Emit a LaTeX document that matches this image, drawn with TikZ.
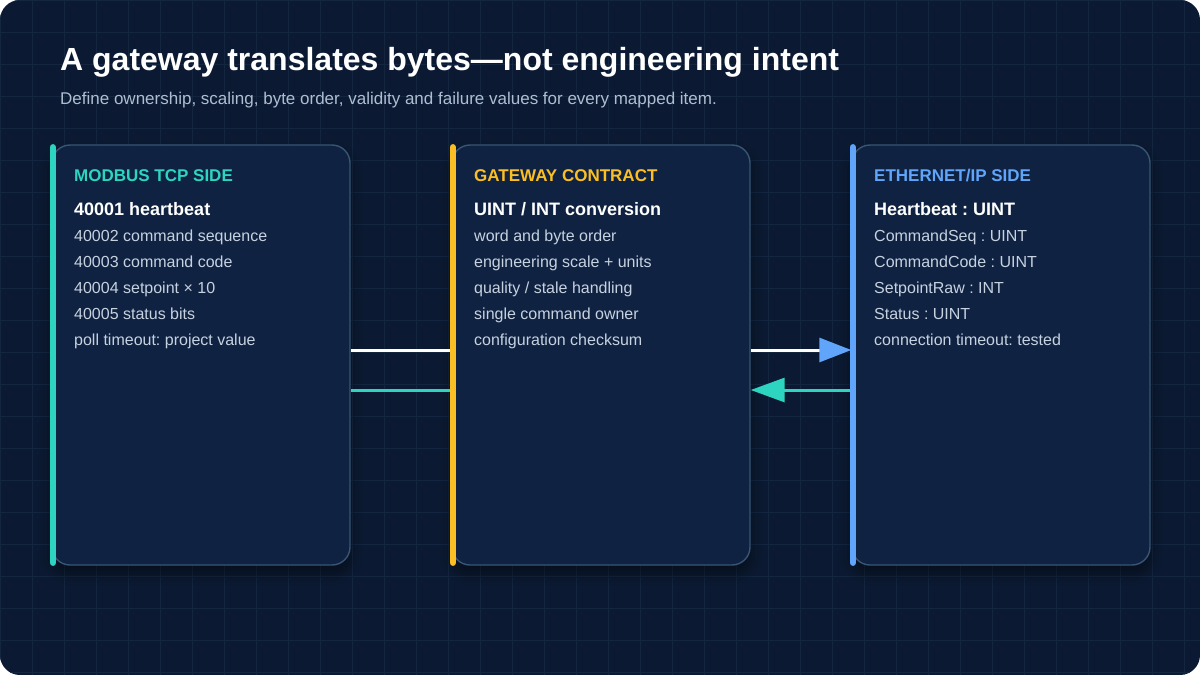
\documentclass[tikz,border=0pt]{standalone}
\usepackage{fontspec}
\setmainfont{Liberation Sans}
\usetikzlibrary{calc,arrows.meta,shadows.blur}

\definecolor{bgNavy}{HTML}{0B1A32}
\definecolor{gridLine}{HTML}{13253F}
\definecolor{panelFill}{HTML}{0F2241}
\definecolor{panelEdge}{HTML}{385574}
\definecolor{modbusTeal}{HTML}{2DD4BF}
\definecolor{gatewayGold}{HTML}{FBBF24}
\definecolor{enipBlue}{HTML}{60A5FA}
\definecolor{bodyGrey}{HTML}{C7D2E0}
\definecolor{subGrey}{HTML}{AFBDD0}

\tikzset{
  panel/.style={draw=panelEdge, line width=1.4pt, fill=panelFill, rounded corners=18pt,
    minimum width=298pt, minimum height=420pt, inner sep=0pt,
    blur shadow={shadow xshift=0pt, shadow yshift=-8pt, shadow blur radius=12pt, shadow opacity=45}},
  accent/.style={line width=6.5pt, line cap=round},
  header/.style={anchor=base west, inner sep=0pt, font=\fontsize{17}{20}\selectfont\bfseries},
  keyline/.style={anchor=base west, inner sep=0pt, text=white, font=\fontsize{18}{21}\selectfont\bfseries},
  bodyline/.style={anchor=base west, inner sep=0pt, text=bodyGrey, font=\fontsize{16}{19}\selectfont},
  flow/.style={line width=3pt},
}

\begin{document}
\frenchspacing
\begin{tikzpicture}[x=1pt,y=-1pt]

    \useasboundingbox (0,0) rectangle (1200,675);

    % backdrop with faint grid
    \fill[white] (0,0) rectangle (1200,675);
    \begin{scope}
        \clip[rounded corners=20pt] (0,0) rectangle (1200,675);
        \fill[bgNavy] (0,0) rectangle (1200,675);
        \draw[gridLine, line width=0.7pt, step=32pt] (0,0) grid (1200,675);
    \end{scope}

    % heading
    \node[anchor=base west, inner sep=0pt, text=white, font=\fontsize{32}{38}\selectfont\bfseries] (title) at (60,70) {A gateway translates bytes—not engineering intent};
    \node[anchor=base west, inner sep=0pt, text=subGrey, font=\fontsize{17}{20}\selectfont] (subtitle) at (60,104) {Define ownership, scaling, byte order, validity and failure values for every mapped item.};

    % the three panels
    \node[panel] (modbus) at (201,355) {};
    \node[panel] (gateway) at (601,355) {};
    \node[panel] (enip) at (1001,355) {};

    % data flow between the sides
    \coordinate (fwd) at (0,350);
    \coordinate (back) at (0,390);
    \draw[flow, white] (modbus.east |- fwd) -- (gateway.west |- fwd);
    \draw[flow, white, -{Triangle[length=32pt, width=24pt, color=enipBlue]}] (gateway.east |- fwd) -- (enip.west |- fwd);
    \draw[flow, modbusTeal, -{Triangle[length=34pt, width=24pt]}] (enip.west |- back) -- (gateway.east |- back);
    \draw[flow, modbusTeal] (gateway.west |- back) -- (modbus.east |- back);

    % accent bars
    \draw[accent, modbusTeal] ($(modbus.north west)+(1.5,3)$) -- ($(modbus.south west)+(1.5,-3)$);
    \draw[accent, gatewayGold] ($(gateway.north west)+(1.5,3)$) -- ($(gateway.south west)+(1.5,-3)$);
    \draw[accent, enipBlue] ($(enip.north west)+(1.5,3)$) -- ($(enip.south west)+(1.5,-3)$);

    % Modbus TCP side
    \node[header, text=modbusTeal] (mbHead) at (74,181) {MODBUS TCP SIDE};
    \node[keyline] (mbKey) at (74,215) {40001 heartbeat};
    \node[bodyline] (mbA) at (74,241) {40002 command sequence};
    \node[bodyline] (mbB) at (74,267) {40003 command code};
    \node[bodyline] (mbC) at (74,293) {40004 setpoint × 10};
    \node[bodyline] (mbD) at (74,319) {40005 status bits};
    \node[bodyline] (mbE) at (74,345) {poll timeout: project value};

    % gateway contract
    \node[header, text=gatewayGold] (gwHead) at (474,181) {GATEWAY CONTRACT};
    \node[keyline] (gwKey) at (474,215) {UINT / INT conversion};
    \node[bodyline] (gwA) at (474,241) {word and byte order};
    \node[bodyline] (gwB) at (474,267) {engineering scale + units};
    \node[bodyline] (gwC) at (474,293) {quality / stale handling};
    \node[bodyline] (gwD) at (474,319) {single command owner};
    \node[bodyline] (gwE) at (474,345) {configuration checksum};

    % EtherNet/IP side
    \node[header, text=enipBlue] (eipHead) at (874,181) {ETHERNET/IP SIDE};
    \node[keyline] (eipKey) at (874,215) {Heartbeat : UINT};
    \node[bodyline] (eipA) at (874,241) {CommandSeq : UINT};
    \node[bodyline] (eipB) at (874,267) {CommandCode : UINT};
    \node[bodyline] (eipC) at (874,293) {SetpointRaw : INT};
    \node[bodyline] (eipD) at (874,319) {Status : UINT};
    \node[bodyline] (eipE) at (874,345) {connection timeout: tested};

\end{tikzpicture}
\end{document}
